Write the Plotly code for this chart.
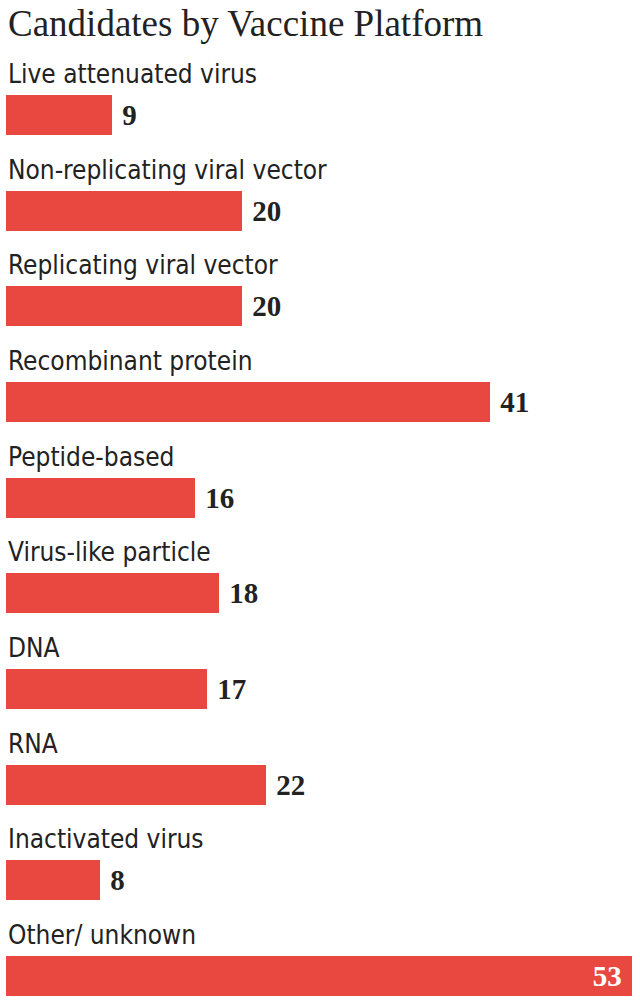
import plotly.graph_objects as go

categories = ["Live attenuated virus", "Non-replicating viral vector", "Replicating viral vector",
              "Recombinant protein", "Peptide-based", "Virus-like particle", "DNA", "RNA",
              "Inactivated virus", "Other/ unknown"]
values = [9, 20, 20, 41, 16, 18, 17, 22, 8, 53]
title_text = "Candidates by Vaccine Platform"

RED = "#E8483F"
DARK = "#222222"
LABEL_FONT = "DejaVu Sans Condensed, Liberation Sans Narrow, Roboto, sans-serif"
NUM_FONT = "Liberation Serif, DejaVu Serif, serif"

n = len(values)
positions = ["outside"] * (n - 1) + ["inside"]
texts = [" " + str(v) for v in values[:-1]] + [str(values[-1]) + " "]

fig = go.Figure(go.Bar(
    x=values,
    y=categories,
    orientation="h",
    width=0.42,
    marker=dict(color=RED, line=dict(width=0)),
    text=texts,
    textposition=positions,
    insidetextanchor="end",
    outsidetextfont=dict(family=NUM_FONT, size=29, color=DARK, weight="bold"),
    insidetextfont=dict(family=NUM_FONT, size=29, color="white", weight="bold"),
    cliponaxis=False,
    hoverinfo="skip",
))

annotations = []
for c in categories:
    annotations.append(dict(
        x=0, y=c, xref="x", yref="y", text=c, showarrow=False,
        xanchor="left", yanchor="middle", yshift=41,
        font=dict(family=LABEL_FONT, size=26, color=DARK),
    ))
annotations.append(dict(
    x=0, y=1, xref="paper", yref="paper", text=title_text, showarrow=False,
    xanchor="left", yanchor="middle", yshift=37,
    font=dict(family="Liberation Serif, DejaVu Serif, serif", size=37, color=DARK),
))

fig.update_layout(
    width=640, height=1007,
    margin=dict(l=6, r=8, t=60, b=0),
    paper_bgcolor="white", plot_bgcolor="white",
    showlegend=False,
    bargap=0,
    annotations=annotations,
    xaxis=dict(range=[0, 53], visible=False, fixedrange=True),
    yaxis=dict(type="category", categoryorder="array", categoryarray=categories,
               range=[9.324, -0.575], visible=False, fixedrange=True),
    uniformtext=dict(mode=False),
)

fig.write_html("out.html", config={"displayModeBar": False})
